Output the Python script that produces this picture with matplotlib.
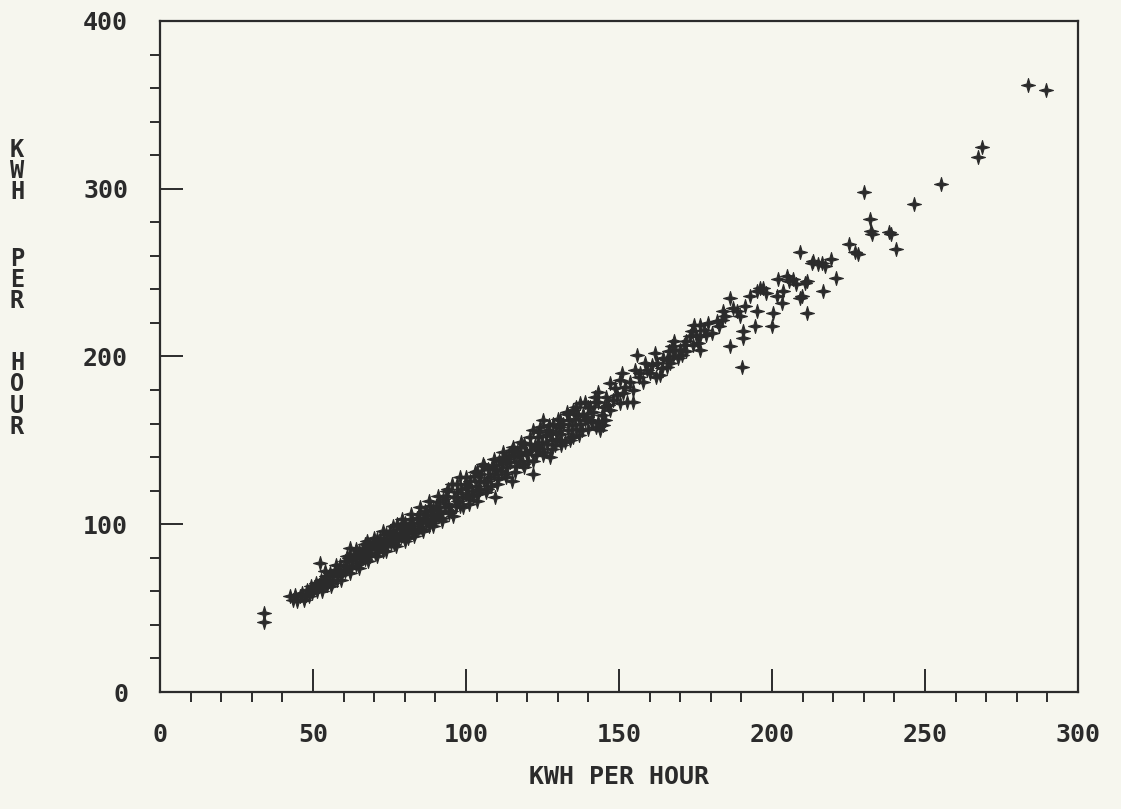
import numpy as np
import matplotlib
matplotlib.use('Agg')
import matplotlib.pyplot as plt
from matplotlib.ticker import MultipleLocator

# readings taken off the plot, (kwh per hour, kwh per hour)
band_low = [(34, 42), (34, 47), (42.5, 57), (43.6, 55), (44.2, 58), (44.8, 54), (45.6, 57), (46.5, 59),
            (46.9, 55), (47.6, 58), (48.2, 61), (48.7, 57), (49.3, 63), (49.8, 59), (50.4, 62), (50.9, 65),
            (51.3, 60), (51.9, 64), (52.3, 77), (52.6, 67), (53.1, 62), (53.6, 66), (54.2, 69), (54.6, 64),
            (55.1, 67), (55.7, 71), (56.2, 65), (56.6, 69), (57.2, 73), (57.7, 67), (58.1, 71), (58.8, 76),
            (59.2, 70), (59.7, 73), (60.3, 78), (60.6, 72), (61.2, 75), (61.8, 80), (62.1, 86), (62.4, 74),
            (62.9, 78), (63.5, 82), (63.9, 76), (64.4, 80), (65.0, 84), (65.4, 77), (65.9, 81), (66.5, 86),
            (66.9, 79), (67.5, 83), (67.8, 90), (68.2, 87), (68.6, 81), (69.1, 85), (69.7, 89), (70.2, 83),
            (70.6, 87), (70.9, 91)]

band_mid = [(71.5, 86), (71.9, 92), (72.4, 88), (72.8, 84), (73.3, 90), (73.9, 94), (74.2, 87), (74.7, 91),
            (75.2, 96), (75.6, 89), (76.1, 93), (76.5, 88), (77.0, 95), (77.3, 100), (77.8, 91), (78.3, 97),
            (78.7, 93), (79.2, 99), (79.6, 94), (80.1, 101), (80.5, 96), (81.0, 92), (81.4, 99), (81.9, 103),
            (82.3, 97), (82.8, 101), (83.3, 95), (83.9, 104), (84.2, 99), (84.7, 106), (85.1, 101), (85.6, 97),
            (86.0, 104), (86.5, 108), (87.0, 102), (87.4, 106), (87.9, 99), (88.2, 111), (88.6, 105), (89.1, 109),
            (89.3, 99), (89.8, 103), (90.3, 111), (90.7, 106), (91.2, 113), (91.6, 108), (92.1, 104), (92.5, 115),
            (93.0, 110), (93.5, 117), (93.7, 120), (94.2, 112), (94.6, 107), (95.3, 124), (95.8, 105), (96.2, 116),
            (96.6, 111), (97.1, 119), (97.5, 114), (98.0, 128), (98.4, 121), (98.8, 116), (99.1, 110), (99.6, 124),
            (100.0, 118)]

band_high = [(100.5, 122), (100.9, 115), (101.4, 126), (101.8, 120), (102.3, 117), (102.7, 129), (103.2, 123),
             (103.5, 132), (103.5, 114), (104.1, 126), (104.5, 121), (105.0, 130), (105.7, 136), (106.0, 125),
             (106.4, 119), (106.8, 126), (107.2, 133), (107.7, 128), (108.1, 123), (108.6, 135), (109.0, 130),
             (109.5, 116), (109.9, 133), (110.4, 127), (110.8, 138), (111.3, 132), (111.7, 136), (112.2, 143),
             (112.6, 130), (113.1, 139), (113.5, 134), (114.0, 141), (114.5, 137), (114.9, 126), (115.5, 146),
             (115.8, 140), (116.3, 135), (116.8, 143), (117.2, 138), (117.7, 146), (118.1, 141), (118.6, 136),
             (119.1, 148), (119.5, 143), (119.8, 142), (120.4, 138), (120.9, 148), (121.3, 144), (121.9, 156),
             (122.0, 130), (122.4, 147), (122.9, 141), (123.1, 146), (123.5, 152), (124.0, 145), (124.2, 158),
             (124.7, 149), (125.3, 162), (125.6, 143), (126.0, 153), (126.4, 148), (126.9, 156), (127.5, 154),
             (127.5, 140), (128.0, 150), (128.5, 160), (129.0, 147), (129.4, 155), (129.9, 151), (130.4, 158),
             (130.7, 162), (130.7, 150), (131.2, 154), (131.8, 160), (132.2, 149), (132.9, 166), (133.3, 156),
             (133.8, 162), (134.2, 152), (134.6, 159), (135.1, 168), (135.1, 152), (135.6, 163), (136.1, 157),
             (136.6, 165), (137.1, 160), (137.3, 172), (137.8, 156), (138.2, 166), (138.8, 162), (139.4, 164),
             (139.9, 170), (140.5, 170), (140.9, 162), (141.1, 161), (141.6, 167), (142.2, 173), (142.6, 158),
             (143.3, 179), (143.3, 173), (143.8, 156), (144.3, 165), (144.8, 159), (145.3, 162), (145.0, 170)]

band_edge_top = [(54, 72), (57.5, 76), (61, 81), (64, 85), (67, 88), (70, 92), (73, 96), (76, 99), (79, 103),
                 (82, 106), (85, 110), (88, 114), (91, 117), (94, 121), (97, 124), (100, 128), (103, 131),
                 (106, 135), (109, 139), (112, 140), (115, 144), (118, 149), (121, 152), (124, 155), (127, 159),
                 (130, 163), (133, 167), (136, 170), (139, 173), (142, 176)]

band_edge_bottom = [(53, 60), (56, 63), (59, 67), (62, 71), (65, 74), (68, 78), (71, 81), (74, 84), (77, 87),
                    (80, 90), (83, 93), (86, 96), (89, 101), (92, 102), (95, 108), (98, 111), (101, 112),
                    (104, 118), (107, 121), (110, 124), (113, 128), (116, 131), (119, 134), (122, 138),
                    (125, 141), (128, 145), (131, 147), (134, 150), (137, 153), (140, 157), (143, 161)]

band_upper = [(145.8, 176), (146.5, 171), (147.1, 184), (147.1, 168), (148.1, 174), (148.8, 181), (149.5, 177),
              (150.3, 186), (150.3, 172), (150.9, 190), (151.4, 178), (152.0, 182), (152.5, 173), (153.5, 185),
              (154.7, 180), (154.7, 173), (155.2, 192), (155.8, 201), (156.5, 188), (157.0, 190), (158.0, 185),
              (158.5, 196), (159.0, 192), (160.2, 190), (160.8, 195), (161.8, 202), (162.0, 188), (162.5, 196),
              (163.4, 189), (164.0, 193), (164.5, 199), (165.6, 194), (165.6, 198), (166.3, 203), (166.8, 196),
              (167.2, 206), (167.5, 200), (168.0, 209), (168.4, 204), (169.2, 199), (169.8, 204), (170.5, 201),
              (171.3, 207), (171.8, 203), (172.0, 209), (173.2, 212), (173.8, 215), (174.3, 207), (174.5, 219),
              (175.2, 213), (175.8, 208), (176.5, 212), (176.5, 204), (176.5, 219), (177.8, 216), (178.5, 213),
              (179.2, 220), (180.3, 214), (181.9, 221), (182.6, 218), (183.6, 222), (184.1, 227), (184.8, 224),
              (186.3, 235), (186.3, 206), (187.2, 229), (188.5, 227), (189.5, 224), (190.1, 194), (190.6, 215),
              (190.6, 211), (191.2, 230), (192.8, 236), (194.4, 218), (195.0, 227), (195.0, 239), (196.2, 241),
              (197.2, 241), (198.0, 238), (199.9, 218), (200.4, 226), (201.5, 236), (202.1, 246), (203.2, 232),
              (203.7, 239), (204.8, 248), (205.5, 245), (207.0, 246), (208.0, 243), (209.2, 235), (209.0, 262),
              (209.7, 236), (210.8, 244), (211.3, 245), (211.5, 226), (213.0, 256), (213.5, 257), (215.0, 255),
              (216.2, 256), (216.8, 239), (217.2, 254), (219.2, 258), (221.0, 247)]

far_points = [(225.3, 267), (227.1, 262), (228.0, 261), (230.0, 298), (232.1, 282), (232.4, 275), (232.8, 273),
              (238.1, 274), (239.0, 273), (240.5, 264), (246.5, 291), (255.2, 303), (267.2, 319), (268.5, 325),
              (283.7, 362), (289.5, 359)]

x_ticks = [0, 50, 100, 150, 200, 250, 300]
y_ticks = [0, 100, 200, 300, 400]
ylabel_words = ['K\nW\nH', 'P\nE\nR', 'H\nO\nU\nR']
ylabel_rows = [171, 280, 395]   # pixel row (from top) of each word's middle

pts = np.array(band_low + band_mid + band_high + band_edge_top + band_edge_bottom + band_upper + far_points)

paper = '#f6f6ee'
ink = '#2b2b2b'
font = dict(family='DejaVu Sans Mono', weight='bold', color=ink)

W, H = 1121, 809
fig = plt.figure(figsize=(W / 100, H / 100), dpi=100, facecolor=paper)
ax = fig.add_axes([160 / W, 117 / H, 918 / W, 671 / H], facecolor=paper)

w = 0.22
star = [(0, 1), (w, w), (1, 0), (w, -w), (0, -1), (-w, -w), (-1, 0), (-w, w), (0, 1)]
ax.plot(pts[:, 0], pts[:, 1], ls='none', marker=star, ms=10, mfc=ink, mec=ink, mew=0.8)

ax.set_xlim(0, 300)
ax.set_ylim(0, 400)
ax.set_xticks(x_ticks)
ax.set_yticks(y_ticks)
ax.xaxis.set_minor_locator(MultipleLocator(10))
ax.yaxis.set_minor_locator(MultipleLocator(20))
ax.tick_params(which='major', direction='in', length=16.5, width=1.4, color=ink, labelsize=18)
ax.tick_params(axis='x', which='major', pad=22)
ax.tick_params(axis='y', which='major', pad=23)
ax.tick_params(which='minor', direction='out', length=7.5, width=1.4, color=ink)
for lab in ax.get_xticklabels() + ax.get_yticklabels():
    lab.set_fontfamily('DejaVu Sans Mono')
    lab.set_fontweight('bold')
    lab.set_color(ink)
for s in ax.spines.values():
    s.set_linewidth(1.6)
    s.set_color(ink)

fig.text(619 / W, 1 - 777 / H, 'KWH PER HOUR', ha='center', va='center', fontsize=18, **font)
for word, row in zip(ylabel_words, ylabel_rows):
    fig.text(17 / W, 1 - row / H, word, ha='center', va='center', fontsize=17,
             linespacing=0.85, **font)

fig.savefig('out.png', dpi=100, facecolor=paper)
